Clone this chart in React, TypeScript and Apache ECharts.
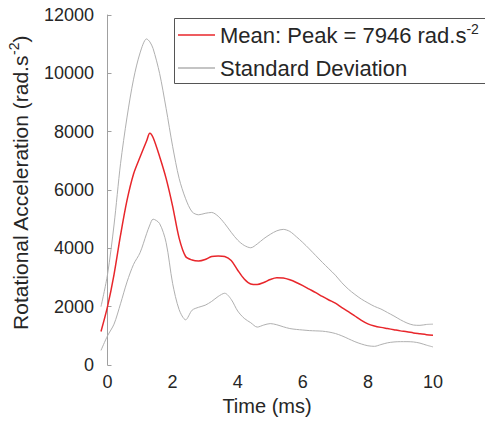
import React, { useEffect, useRef } from "react";
import * as echarts from "echarts";

const time = [-0.2, 0, 0.2, 0.4, 0.6, 0.8, 1.0, 1.2, 1.3, 1.4, 1.6, 1.8, 2.0, 2.2, 2.4, 2.6, 2.8, 3.0, 3.2, 3.4, 3.6, 3.8, 4.0, 4.2, 4.4, 4.6, 4.8, 5.0, 5.2, 5.4, 5.6, 5.8, 6.0, 6.2, 6.4, 6.6, 6.8, 7.0, 7.2, 7.4, 7.6, 7.8, 8.0, 8.2, 8.4, 8.6, 8.8, 9.0, 9.2, 9.4, 9.6, 9.8, 10.0];

const meanValues = [1150, 2000, 3100, 4450, 5650, 6550, 7130, 7680, 7946, 7800, 7150, 6400, 5450, 4350, 3720, 3600, 3570, 3620, 3720, 3740, 3720, 3580, 3250, 2950, 2780, 2760, 2830, 2930, 2990, 2980, 2920, 2830, 2720, 2600, 2480, 2350, 2230, 2120, 1970, 1830, 1680, 1530, 1410, 1340, 1290, 1250, 1210, 1170, 1140, 1100, 1070, 1040, 1020];

const upperValues = [2000, 3100, 4800, 6900, 8500, 9800, 10700, 11180, 11080, 10850, 10000, 8800, 7500, 6400, 5700, 5250, 5150, 5200, 5230, 5100, 4850, 4550, 4280, 4100, 4020, 4150, 4330, 4480, 4600, 4650, 4580, 4400, 4200, 3980, 3750, 3520, 3300, 3080, 2820, 2600, 2420, 2260, 2130, 2010, 1920, 1800, 1680, 1550, 1440, 1370, 1360, 1390, 1400];

const lowerValues = [500, 1000, 1400, 2100, 2850, 3450, 3850, 4500, 4800, 5000, 4850, 4200, 2800, 1900, 1550, 1880, 1980, 2050, 2180, 2350, 2460, 2250, 1850, 1600, 1450, 1300, 1370, 1420, 1380, 1310, 1250, 1220, 1200, 1180, 1170, 1160, 1130, 1080, 1000, 900, 800, 720, 660, 640, 700, 760, 790, 800, 800, 790, 750, 680, 620];

const xTicks = [0, 2, 4, 6, 8, 10];
const meanLabel = "Mean: Peak = 7946 rad.s{sup|-2}";
const stdLabel = "Standard Deviation";
const yTitle = "Rotational Acceleration (rad.s{sup|-2})";
const xTitle = "Time (ms)";

const FONT = "Liberation Sans, Arial, Helvetica, sans-serif";
const TEXT = "#262626";
const RED = "#e8262b";
const GRAY = "#b0b0b0";

export default function App() {
  const ref = useRef<HTMLDivElement>(null);
  useEffect(() => {
    if (!ref.current) return;
    const chart = echarts.init(ref.current, null, { renderer: "svg" });
    const pairs = (vals: number[]) => time.map((t, i) => [t, vals[i]]);
    chart.setOption({
      animation: false,
      backgroundColor: "#ffffff",
      textStyle: { fontFamily: FONT },
      grid: { left: 101, top: 15, width: 332, height: 350, containLabel: false, outerBoundsMode: "none" },
      graphic: [
        {
          type: "rect",
          z: 8,
          silent: true,
          shape: { x: 174.5, y: 18.5, width: 330, height: 65 },
          style: { fill: "#ffffff", stroke: "#555555", lineWidth: 1 },
        },
      ],
      legend: {
        left: 174,
        top: 18,
        z: 10,
        orient: "vertical",
        padding: [4, 10, 2, 4],
        itemGap: 7,
        itemWidth: 37,
        itemHeight: 1.5,
        borderWidth: 0,
        data: [
          { name: "Mean", icon: "rect", itemStyle: { color: RED } },
          { name: stdLabel, icon: "rect", itemStyle: { color: GRAY } },
        ],
        formatter: (name: string) => (name === "Mean" ? meanLabel : name),
        textStyle: {
          fontFamily: FONT,
          fontSize: 22,
          color: TEXT,
          lineHeight: 26,
          rich: {
            sup: { fontFamily: FONT, fontSize: 14, lineHeight: 14, verticalAlign: "top", color: TEXT },
          },
        },
      },
      xAxis: {
        type: "value",
        min: -0.2,
        max: 10,
        axisLine: { show: false },
        axisTick: { show: false },
        splitLine: { show: false },
        axisLabel: {
          customValues: xTicks,
          fontSize: 18,
          color: TEXT,
          margin: 8,
          fontFamily: FONT,
        },
        name: xTitle,
        nameLocation: "middle",
        nameGap: 30,
        nameTextStyle: { fontSize: 20, color: TEXT, fontFamily: FONT },
      },
      yAxis: {
        type: "value",
        min: 0,
        max: 12000,
        interval: 2000,
        axisLine: { show: true, lineStyle: { color: "#a0a0a0", width: 1 } },
        axisTick: { show: true, inside: true, length: 4, lineStyle: { color: "#a0a0a0" } },
        splitLine: { show: false },
        axisLabel: {
          fontSize: 18,
          color: TEXT,
          margin: 7,
          fontFamily: FONT,
          formatter: (v: number) => String(v),
        },
        name: yTitle,
        nameLocation: "middle",
        nameGap: 51,
        nameTextStyle: {
          fontSize: 21,
          color: TEXT,
          fontFamily: FONT,
          lineHeight: 26,
          padding: [0, 0, 0, 14],
          rich: {
            sup: { fontFamily: FONT, fontSize: 14, lineHeight: 14, verticalAlign: "top", color: TEXT },
          },
        },
      },
      series: [
        {
          name: stdLabel,
          type: "line",
          data: pairs(upperValues),
          symbol: "none",
          smooth: 0.3,
          lineStyle: { color: GRAY, width: 1 },
          itemStyle: { color: GRAY },
          z: 2,
        },
        {
          name: stdLabel,
          type: "line",
          data: pairs(lowerValues),
          symbol: "none",
          smooth: 0.3,
          lineStyle: { color: GRAY, width: 1 },
          itemStyle: { color: GRAY },
          z: 2,
        },
        {
          name: "Mean",
          type: "line",
          data: pairs(meanValues),
          symbol: "none",
          smooth: 0.3,
          lineStyle: { color: RED, width: 1.5 },
          itemStyle: { color: RED },
          z: 3,
        },
      ],
    });
    return () => chart.dispose();
  }, []);
  return (
    <div
      ref={ref}
      style={{ position: "fixed", left: 0, top: 0, width: 485, height: 421, background: "#fff" }}
    />
  );
}
